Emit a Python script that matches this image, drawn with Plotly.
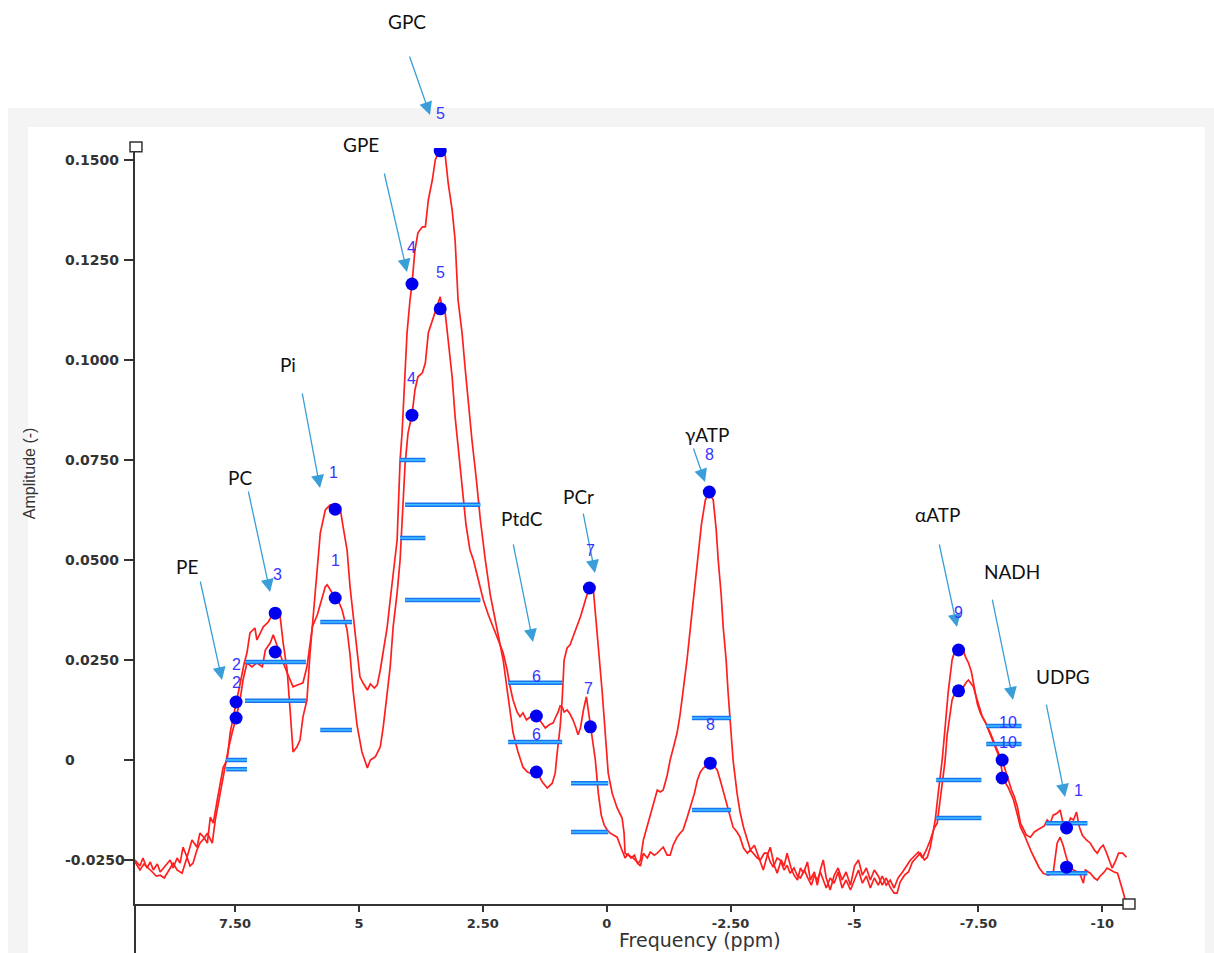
import plotly.graph_objects as go

# ---------------- DATA ----------------
# Spectrum A (upper trace)
spec_a_ppm = [9.52, 9.42, 9.36, 9.28, 9.21, 9.15, 9.07, 9.01, 8.91, 8.81, 8.75, 8.67, 8.61, 8.55, 8.47, 8.37,
              8.27, 8.21, 8.12, 8.06, 8.00, 7.94, 7.86, 7.80, 7.74, 7.66, 7.60, 7.54, 7.48, 7.40, 7.32, 7.26,
              7.20, 7.10, 7.06, 6.99, 6.93, 6.83, 6.75, 6.69, 6.59, 6.53, 6.45, 6.39, 6.33, 6.25, 6.19, 6.13,
              6.05, 5.99, 5.92, 5.84, 5.78, 5.68, 5.58, 5.48, 5.38, 5.32, 5.24, 5.18, 5.12, 5.04, 4.98, 4.92,
              4.83, 4.77, 4.69, 4.63, 4.57, 4.51, 4.43, 4.37, 4.31, 4.23, 4.17, 4.13, 4.07, 4.03, 3.97, 3.93,
              3.87, 3.81, 3.72, 3.66, 3.60, 3.52, 3.46, 3.40, 3.36, 3.32, 3.26, 3.20, 3.12, 3.06, 3.00, 2.92,
              2.86, 2.80, 2.72, 2.63, 2.55, 2.45, 2.35, 2.29, 2.19, 2.09, 1.99, 1.89, 1.79, 1.69, 1.60, 1.54,
              1.46, 1.40, 1.30, 1.20, 1.10, 1.04, 1.00, 0.94, 0.90, 0.86, 0.80, 0.74, 0.68, 0.60, 0.53, 0.47,
              0.39, 0.35, 0.27, 0.23, 0.17, 0.09, 0.03, -0.03, -0.11, -0.21, -0.31, -0.35, -0.37, -0.43, -0.53,
              -0.64, -0.68, -0.74, -0.82, -0.88, -0.96, -1.02, -1.08, -1.14, -1.22, -1.28, -1.36, -1.42, -1.48,
              -1.54, -1.62, -1.69, -1.77, -1.83, -1.91, -1.99, -2.07, -2.15, -2.21, -2.25, -2.31, -2.35, -2.41,
              -2.45, -2.51, -2.55, -2.63, -2.69, -2.76, -2.84, -2.90, -2.98, -3.04, -3.10, -3.16, -3.24, -3.30,
              -3.38, -3.44, -3.52, -3.58, -3.64, -3.72, -3.78, -3.85, -3.91, -3.97, -4.05, -4.11, -4.19, -4.25,
              -4.31, -4.37, -4.43, -4.51, -4.59, -4.67, -4.75, -4.83, -4.92, -5.00, -5.08, -5.16, -5.24, -5.32,
              -5.40, -5.48, -5.56, -5.64, -5.72, -5.80, -5.86, -5.92, -6.01, -6.09, -6.17, -6.25, -6.33, -6.41,
              -6.47, -6.53, -6.59, -6.63, -6.69, -6.77, -6.83, -6.89, -6.97, -7.03, -7.10, -7.18, -7.24, -7.30,
              -7.36, -7.42, -7.48, -7.54, -7.60, -7.66, -7.74, -7.80, -7.86, -7.92, -7.98, -8.04, -8.10, -8.17,
              -8.23, -8.29, -8.35, -8.41, -8.47, -8.55, -8.63, -8.69, -8.77, -8.83, -8.89, -8.95, -9.01, -9.09,
              -9.15, -9.21, -9.28, -9.36, -9.42, -9.48, -9.54, -9.60, -9.68, -9.76, -9.84, -9.90, -9.96, -10.02,
              -10.08, -10.14, -10.20, -10.26, -10.33, -10.41, -10.49]
spec_a_amp = [-0.0250, -0.0265, -0.0245, -0.0270, -0.0255, -0.0275, -0.0260, -0.0280, -0.0265, -0.0250, -0.0270,
              -0.0245, -0.0258, -0.0218, -0.0243, -0.0200, -0.0218, -0.0183, -0.0195, -0.0208, -0.0143, -0.0158,
              -0.0100, -0.0058, -0.0018, 0.0000, 0.0068, 0.0105, 0.0145, 0.0190, 0.0240, 0.0268, 0.0318, 0.0330,
              0.0300, 0.0320, 0.0333, 0.0345, 0.0363, 0.0370, 0.0358, 0.0293, 0.0225, 0.0125, 0.0020, 0.0033,
              0.0050, 0.0108, 0.0150, 0.0263, 0.0363, 0.0475, 0.0568, 0.0625, 0.0638, 0.0633, 0.0630, 0.0583,
              0.0525, 0.0433, 0.0358, 0.0275, 0.0208, 0.0193, 0.0175, 0.0190, 0.0180, 0.0188, 0.0225, 0.0275,
              0.0333, 0.0400, 0.0458, 0.0550, 0.0750, 0.0818, 0.0968, 0.1068, 0.1150, 0.1190, 0.1275, 0.1318,
              0.1333, 0.1333, 0.1400, 0.1450, 0.1500, 0.1518, 0.1523, 0.1520, 0.1513, 0.1443, 0.1375, 0.1300,
              0.1150, 0.1068, 0.0983, 0.0900, 0.0800, 0.0700, 0.0600, 0.0500, 0.0413, 0.0375, 0.0313, 0.0250,
              0.0158, 0.0068, 0.0020, -0.0018, -0.0030, -0.0033, -0.0030, -0.0033, -0.0055, -0.0070, -0.0058,
              -0.0033, 0.0018, 0.0083, 0.0150, 0.0250, 0.0280, 0.0288, 0.0308, 0.0333, 0.0358, 0.0383, 0.0418,
              0.0433, 0.0425, 0.0375, 0.0283, 0.0168, 0.0068, -0.0033, -0.0083, -0.0120, -0.0145, -0.0183,
              -0.0233, -0.0238, -0.0245, -0.0258, -0.0250, -0.0200, -0.0163, -0.0133, -0.0100, -0.0075, -0.0080,
              -0.0075, -0.0038, 0.0000, 0.0038, 0.0068, 0.0113, 0.0168, 0.0250, 0.0333, 0.0425, 0.0500, 0.0588,
              0.0650, 0.0670, 0.0650, 0.0575, 0.0500, 0.0413, 0.0333, 0.0250, 0.0168, 0.0075, 0.0000, -0.0083,
              -0.0130, -0.0168, -0.0200, -0.0225, -0.0213, -0.0233, -0.0255, -0.0275, -0.0238, -0.0218, -0.0263,
              -0.0283, -0.0250, -0.0265, -0.0233, -0.0270, -0.0288, -0.0300, -0.0270, -0.0283, -0.0255, -0.0300,
              -0.0280, -0.0313, -0.0275, -0.0250, -0.0295, -0.0325, -0.0288, -0.0270, -0.0300, -0.0280, -0.0313,
              -0.0265, -0.0250, -0.0288, -0.0270, -0.0300, -0.0275, -0.0290, -0.0313, -0.0295, -0.0318, -0.0333,
              -0.0333, -0.0305, -0.0288, -0.0280, -0.0255, -0.0245, -0.0233, -0.0250, -0.0243, -0.0218, -0.0175,
              -0.0150, -0.0083, 0.0000, 0.0083, 0.0168, 0.0250, 0.0275, 0.0275, 0.0280, 0.0258, 0.0243, 0.0220,
              0.0175, 0.0140, 0.0118, 0.0105, 0.0090, 0.0068, 0.0050, 0.0030, 0.0013, 0.0000, -0.0025, -0.0050,
              -0.0075, -0.0093, -0.0118, -0.0158, -0.0175, -0.0188, -0.0193, -0.0180, -0.0175, -0.0170, -0.0165,
              -0.0150, -0.0158, -0.0138, -0.0133, -0.0125, -0.0158, -0.0170, -0.0145, -0.0150, -0.0130, -0.0168,
              -0.0188, -0.0200, -0.0208, -0.0225, -0.0233, -0.0220, -0.0213, -0.0230, -0.0250, -0.0270, -0.0255,
              -0.0233, -0.0233, -0.0243]

# Spectrum B (lower trace)
spec_b_ppm = [9.52, 9.42, 9.34, 9.28, 9.17, 9.09, 9.01, 8.93, 8.85, 8.75, 8.67, 8.57, 8.47, 8.41, 8.35, 8.27,
              8.21, 8.12, 8.06, 7.96, 7.90, 7.80, 7.70, 7.64, 7.56, 7.48, 7.40, 7.34, 7.26, 7.16, 7.06, 6.95,
              6.89, 6.79, 6.73, 6.65, 6.55, 6.45, 6.33, 6.23, 6.13, 6.05, 5.94, 5.84, 5.78, 5.68, 5.64, 5.58,
              5.52, 5.44, 5.34, 5.24, 5.18, 5.12, 5.04, 4.94, 4.83, 4.77, 4.67, 4.57, 4.51, 4.43, 4.37, 4.31,
              4.23, 4.17, 4.11, 4.07, 4.01, 3.93, 3.87, 3.81, 3.72, 3.66, 3.60, 3.52, 3.46, 3.40, 3.36, 3.32,
              3.26, 3.20, 3.12, 3.06, 3.00, 2.92, 2.84, 2.76, 2.69, 2.59, 2.49, 2.39, 2.29, 2.19, 2.09, 2.01,
              1.95, 1.89, 1.81, 1.75, 1.69, 1.62, 1.54, 1.46, 1.40, 1.32, 1.24, 1.16, 1.08, 1.02, 0.98, 0.94,
              0.90, 0.86, 0.80, 0.74, 0.68, 0.62, 0.58, 0.53, 0.47, 0.41, 0.37, 0.33, 0.27, 0.23, 0.17, 0.11,
              0.05, -0.01, -0.07, -0.15, -0.21, -0.27, -0.31, -0.37, -0.43, -0.49, -0.56, -0.62, -0.68, -0.74,
              -0.82, -0.88, -0.96, -1.02, -1.08, -1.14, -1.22, -1.28, -1.34, -1.42, -1.48, -1.54, -1.62, -1.69,
              -1.77, -1.83, -1.89, -1.95, -2.03, -2.09, -2.15, -2.23, -2.29, -2.37, -2.43, -2.49, -2.55, -2.63,
              -2.69, -2.76, -2.84, -2.90, -2.96, -3.04, -3.10, -3.18, -3.24, -3.30, -3.36, -3.44, -3.50, -3.58,
              -3.64, -3.70, -3.78, -3.85, -3.91, -3.99, -4.05, -4.13, -4.19, -4.25, -4.31, -4.37, -4.43, -4.51,
              -4.59, -4.67, -4.75, -4.83, -4.92, -5.00, -5.08, -5.16, -5.24, -5.32, -5.40, -5.48, -5.56, -5.64,
              -5.72, -5.80, -5.88, -5.97, -6.05, -6.13, -6.21, -6.29, -6.37, -6.45, -6.53, -6.61, -6.67, -6.73,
              -6.79, -6.83, -6.87, -6.93, -6.97, -7.03, -7.08, -7.14, -7.20, -7.26, -7.30, -7.36, -7.40, -7.44,
              -7.48, -7.54, -7.58, -7.64, -7.68, -7.74, -7.80, -7.88, -7.94, -8.00, -8.06, -8.10, -8.17, -8.21,
              -8.29, -8.35, -8.43, -8.49, -8.57, -8.65, -8.73, -8.81, -8.91, -9.01, -9.05, -9.09, -9.15, -9.21,
              -9.28, -9.32, -9.38, -9.42, -9.50, -9.56, -9.62, -9.66, -9.72, -9.76, -9.84, -9.90, -9.96, -10.02,
              -10.10, -10.16, -10.24, -10.31, -10.37, -10.41, -10.45, -10.49]
spec_b_amp = [-0.0255, -0.0275, -0.0260, -0.0268, -0.0280, -0.0290, -0.0288, -0.0295, -0.0280, -0.0258, -0.0275,
              -0.0283, -0.0243, -0.0265, -0.0258, -0.0225, -0.0208, -0.0195, -0.0183, -0.0208, -0.0150, -0.0083,
              -0.0025, 0.0025, 0.0068, 0.0105, 0.0150, 0.0200, 0.0243, 0.0233, 0.0243, 0.0233, 0.0275, 0.0293,
              0.0313, 0.0283, 0.0250, 0.0218, 0.0183, 0.0188, 0.0193, 0.0233, 0.0333, 0.0363, 0.0388, 0.0433,
              0.0438, 0.0425, 0.0413, 0.0405, 0.0375, 0.0325, 0.0263, 0.0175, 0.0088, 0.0020, -0.0020, 0.0000,
              0.0008, 0.0033, 0.0083, 0.0168, 0.0233, 0.0333, 0.0418, 0.0500, 0.0650, 0.0738, 0.0818, 0.0863,
              0.0925, 0.0958, 0.0968, 0.0993, 0.1068, 0.1100, 0.1118, 0.1143, 0.1158, 0.1125, 0.1118, 0.1050,
              0.0958, 0.0858, 0.0783, 0.0675, 0.0588, 0.0525, 0.0500, 0.0450, 0.0400, 0.0363, 0.0333, 0.0300,
              0.0268, 0.0225, 0.0183, 0.0150, 0.0120, 0.0108, 0.0118, 0.0100, 0.0108, 0.0105, 0.0108, 0.0095,
              0.0080, 0.0088, 0.0093, 0.0110, 0.0120, 0.0135, 0.0133, 0.0120, 0.0125, 0.0115, 0.0100, 0.0080,
              0.0063, 0.0080, 0.0125, 0.0158, 0.0120, 0.0083, 0.0038, 0.0000, -0.0083, -0.0138, -0.0163, -0.0175,
              -0.0183, -0.0188, -0.0193, -0.0213, -0.0225, -0.0245, -0.0235, -0.0245, -0.0238, -0.0258, -0.0265,
              -0.0233, -0.0245, -0.0230, -0.0238, -0.0233, -0.0225, -0.0218, -0.0238, -0.0238, -0.0213, -0.0193,
              -0.0183, -0.0175, -0.0145, -0.0118, -0.0083, -0.0050, -0.0030, -0.0020, -0.0013, -0.0008, -0.0013,
              -0.0025, -0.0050, -0.0088, -0.0118, -0.0145, -0.0168, -0.0180, -0.0193, -0.0220, -0.0233, -0.0225,
              -0.0233, -0.0245, -0.0250, -0.0233, -0.0233, -0.0255, -0.0268, -0.0245, -0.0250, -0.0275, -0.0263,
              -0.0283, -0.0270, -0.0290, -0.0295, -0.0275, -0.0293, -0.0313, -0.0288, -0.0300, -0.0280, -0.0300,
              -0.0320, -0.0295, -0.0308, -0.0280, -0.0320, -0.0300, -0.0325, -0.0300, -0.0275, -0.0308, -0.0290,
              -0.0320, -0.0295, -0.0313, -0.0290, -0.0313, -0.0300, -0.0320, -0.0295, -0.0280, -0.0265, -0.0250,
              -0.0240, -0.0230, -0.0245, -0.0225, -0.0200, -0.0170, -0.0158, -0.0100, -0.0038, 0.0000, 0.0063,
              0.0120, 0.0150, 0.0168, 0.0173, 0.0178, 0.0183, 0.0195, 0.0200, 0.0190, 0.0183, 0.0165, 0.0150,
              0.0125, 0.0108, 0.0095, 0.0083, 0.0063, 0.0043, 0.0020, 0.0000, -0.0045, -0.0060, -0.0068, -0.0088,
              -0.0100, -0.0138, -0.0168, -0.0188, -0.0208, -0.0230, -0.0250, -0.0270, -0.0283, -0.0288, -0.0283,
              -0.0245, -0.0208, -0.0193, -0.0213, -0.0245, -0.0258, -0.0270, -0.0275, -0.0280, -0.0288, -0.0308,
              -0.0275, -0.0280, -0.0283, -0.0295, -0.0300, -0.0290, -0.0283, -0.0270, -0.0275, -0.0280, -0.0283,
              -0.0305, -0.0325, -0.0343, -0.0358]

# Metabolites and fitted peak points
metabolites = ["PE", "PC", "Pi", "GPE", "GPC", "PtdC", "PCr", "γATP", "αATP", "NADH", "UDPG"]
peak_ppm_a = [7.48, 6.69, 5.48, 3.93, 3.36, 1.42, 0.35, -2.07, -7.10, -7.98, -9.28]
peak_amp_a = [0.0145, 0.0367, 0.0627, 0.1190, 0.1523, -0.0030, 0.0430, 0.0670, 0.0275, 0.0000, -0.0170]
peak_ppm_b = [7.48, 6.69, 5.48, 3.93, 3.36, 1.42, 0.33, -2.09, -7.10, -7.98, -9.28]
peak_amp_b = [0.0105, 0.0270, 0.0405, 0.0862, 0.1128, 0.0110, 0.0083, -0.0008, 0.0173, -0.0045, -0.0268]

# Baseline segments per metabolite
base_start = [7.68, 7.30, 5.78, 4.17, 4.07, 1.99, 0.72, -1.72, -6.65, -7.66, -8.87]
base_end = [7.26, 6.07, 5.14, 3.66, 2.55, 0.90, -0.03, -2.51, -7.56, -8.37, -9.70]
base_upper = [0.0000, 0.0245, 0.0345, 0.0750, 0.0638, 0.0193, -0.0058, 0.0105, -0.0050, 0.0085, -0.0158]
base_lower = [-0.0023, 0.0148, 0.0075, 0.0555, 0.0400, 0.0045, -0.0180, -0.0125, -0.0145, 0.0040, -0.0283]

# Axis ticks
y_tick_vals = [0.15, 0.125, 0.1, 0.075, 0.05, 0.025, 0, -0.025]
y_tick_text = ["0.1500", "0.1250", "0.1000", "0.0750", "0.0500", "0.0250", "0", "-0.0250"]
x_tick_vals = [7.5, 5, 2.5, 0, -2.5, -5, -7.5, -10]
x_tick_text = ["7.50", "5", "2.50", "0", "-2.50", "-5", "-7.50", "-10"]

# ---------------- LAYOUT (positions, paper fractions / pixel offsets) ----------------
Y_MIN, Y_MAX = -0.036, 0.153
name_pos = {"PE": (0.0524, 0.4458), "PC": (0.1057, 0.5648), "Pi": (0.1541, 0.7130), "GPE": (0.2276, 1.0040),
            "GPC": (0.2739, 1.1667), "PtdC": (0.3897, 0.5093), "PCr": (0.4471, 0.5384), "γATP": (0.5760, 0.6204),
            "αATP": (0.8077, 0.5146), "NADH": (0.8832, 0.4392), "UDPG": (0.9345, 0.3003)}
# arrow tip (paper) and tail offset (pixels)
arrow_pos = {"PE": (0.0876, 0.2963, -22, -100), "PC": (0.1360, 0.4127, -22, -102),
             "Pi": (0.1863, 0.5503, -18, -96), "GPE": (0.2739, 0.8360, -23, -100),
             "GPC": (0.2971, 1.0437, -21, -60), "PtdC": (0.4008, 0.3466, -20, -99),
             "PCr": (0.4632, 0.4378, -12, -61), "γATP": (0.5740, 0.5582, -12, -35),
             "αATP": (0.8278, 0.3664, -18, -84), "NADH": (0.8842, 0.2698, -21, -102),
             "UDPG": (0.9366, 0.1415, -19, -94)}
number_labels = [("2", 7.48, 0.0240), ("2", 7.48, 0.0195), ("3", 6.65, 0.0463),
                 ("1", 5.52, 0.0720), ("1", 5.48, 0.0500), ("4", 3.93, 0.1280), ("4", 3.93, 0.0955),
                 ("5", 3.36, 0.1615), ("5", 3.36, 0.1220), ("6", 1.42, 0.0208), ("6", 1.42, 0.0063),
                 ("7", 0.33, 0.0525), ("7", 0.37, 0.0180), ("8", -2.07, 0.0763), ("8", -2.09, 0.0088),
                 ("9", -7.10, 0.0370), ("10", -8.10, 0.0093), ("10", -8.10, 0.0045), ("1", -9.52, -0.0075)]


def ypaper(v):
    return (v - Y_MIN) / (Y_MAX - Y_MIN)


fig = go.Figure()

red = "#ff1f1f"
fig.add_trace(go.Scatter(x=spec_a_ppm, y=spec_a_amp, mode="lines",
                         line=dict(color=red, width=1.7), hoverinfo="skip", showlegend=False))
fig.add_trace(go.Scatter(x=spec_b_ppm, y=spec_b_amp, mode="lines",
                         line=dict(color=red, width=1.7), hoverinfo="skip", showlegend=False))

# baseline bars
bx, by = [], []
for s, e, u, l in zip(base_start, base_end, base_upper, base_lower):
    bx += [s, e, None, s, e, None]
    by += [u, u, None, l, l, None]
fig.add_trace(go.Scatter(x=bx, y=by, mode="lines", line=dict(color="#1a73f0", width=4.5),
                         hoverinfo="skip", showlegend=False))
fig.add_trace(go.Scatter(x=bx, y=by, mode="lines", line=dict(color="#3fc0ff", width=1.6),
                         hoverinfo="skip", showlegend=False))

# peak markers
fig.add_trace(go.Scatter(x=peak_ppm_a + peak_ppm_b, y=peak_amp_a + peak_amp_b, mode="markers",
                         marker=dict(color="#0000ee", size=13, line=dict(width=0)),
                         hoverinfo="skip", showlegend=False))

ann = []
for m in metabolites:
    x, y = name_pos[m]
    ann.append(dict(x=x, y=y, xref="paper", yref="paper", text=m, showarrow=False,
                    xanchor="center", yanchor="middle",
                    font=dict(family="Lato, Open Sans, sans-serif", size=19, color="#111111")))
    hx, hy, ax, ay = arrow_pos[m]
    ann.append(dict(x=hx, y=hy, xref="paper", yref="paper", ax=ax, ay=ay, axref="pixel", ayref="pixel",
                    text="", showarrow=True, arrowhead=2, arrowsize=2.0, arrowwidth=1.3,
                    arrowcolor="#3a9fd8", standoff=0, startstandoff=0))
for t, x, y in number_labels:
    ann.append(dict(x=x, y=ypaper(y), xref="x", yref="paper", text=t, showarrow=False,
                    xanchor="center", yanchor="middle",
                    font=dict(family="Liberation Sans, Arial, sans-serif", size=16, color="#3535ff")))
# y tick labels (left aligned as in reference)
for v, t in zip(y_tick_vals, y_tick_text):
    ann.append(dict(x=-0.0725, y=v, xref="paper", yref="y", text=t, showarrow=False,
                    xanchor="left", yanchor="middle",
                    font=dict(family="DejaVu Sans", size=14, color="#333333", weight="bold")))
# axis titles
ann.append(dict(x=0.569, y=-0.0476, xref="paper", yref="paper", text="Frequency (ppm)", showarrow=False,
                xanchor="center", yanchor="middle",
                font=dict(family="DejaVu Sans", size=19, color="#333333")))
ann.append(dict(x=-0.1067, y=0.570, xref="paper", yref="paper", text="Amplitude (-)", showarrow=False,
                textangle=-90, xanchor="center", yanchor="middle",
                font=dict(family="Liberation Sans Narrow, Liberation Sans, sans-serif", size=16, color="#333333")))

shapes = [
    dict(type="rect", xref="paper", yref="paper", x0=-0.1279, x1=1.0866, y0=-0.0648, y1=1.0529,
         fillcolor="#f4f4f4", line=dict(width=0), layer="below"),
    dict(type="rect", xref="paper", yref="paper", x0=-0.1078, x1=1.0775, y0=-0.0648, y1=1.0278,
         fillcolor="#ffffff", line=dict(width=0), layer="below"),
    dict(type="line", xref="paper", yref="paper", x0=0, x1=0, y0=-0.0648, y1=0,
         line=dict(color="#333333", width=2)),
    dict(type="rect", xref="paper", yref="paper", x0=-0.005, x1=0.007, y0=0.995, y1=1.008,
         fillcolor="#ffffff", line=dict(color="#333333", width=1.5)),
    dict(type="rect", xref="paper", yref="paper", x0=0.995, x1=1.007, y0=-0.0066, y1=0.0066,
         fillcolor="#ffffff", line=dict(color="#333333", width=1.5)),
]

fig.update_layout(
    width=1214, height=953,
    margin=dict(l=135, r=86, t=148, b=49),
    paper_bgcolor="#ffffff", plot_bgcolor="#ffffff",
    showlegend=False,
    annotations=ann, shapes=shapes,
    xaxis=dict(range=[9.52, -10.52], showgrid=False, zeroline=False, showline=True,
               linecolor="#333333", linewidth=2, ticks="outside", ticklen=6, tickwidth=2,
               tickcolor="#333333", tickvals=x_tick_vals, ticktext=x_tick_text,
               tickfont=dict(family="DejaVu Sans", size=13, color="#333333", weight="bold")),
    yaxis=dict(range=[Y_MIN, Y_MAX], showgrid=False, zeroline=False, showline=True,
               linecolor="#333333", linewidth=2, ticks="outside", ticklen=9, tickwidth=2,
               tickcolor="#333333", tickvals=y_tick_vals, showticklabels=False),
)

fig.write_html("out.html", config={"displayModeBar": False})

# remove the default page margin so the figure sits at the window origin
with open("out.html", "r", encoding="utf-8") as f:
    html = f.read()
html = html.replace("<head>", "<head><style>html,body{margin:0;padding:0;overflow:hidden;}</style>", 1)
with open("out.html", "w", encoding="utf-8") as f:
    f.write(html)
